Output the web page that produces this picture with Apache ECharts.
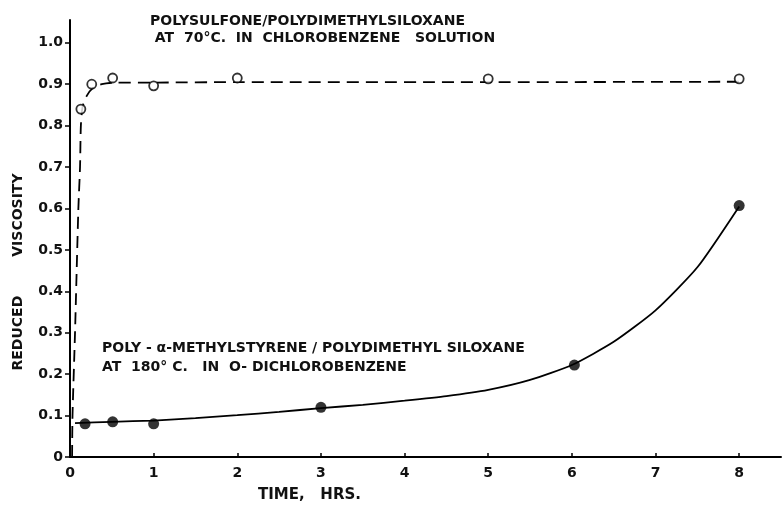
<!DOCTYPE html>
<html><head><meta charset="utf-8">
<script src="https://cdn.jsdelivr.net/npm/echarts@6/dist/echarts.min.js"></script>
<style>html,body{margin:0;padding:0;background:#fff}#c{width:782px;height:511px}</style>
</head><body><div id="c"></div>
<script>
// Polysulfone / PDMS (open circles)
const psTime = [0.13, 0.26, 0.51, 1.0, 2.0, 5.0, 8.0];
const psVisc = [0.84, 0.90, 0.915, 0.896, 0.915, 0.913, 0.913];
// dashed fitted curve
const psCurveTime = [0.025, 0.03, 0.06, 0.1, 0.12, 0.13, 0.15, 0.2, 0.27, 0.38, 0.55, 1, 2, 5, 8.05];
const psCurveVisc = [0.0, 0.1, 0.3, 0.6, 0.7, 0.8, 0.845, 0.872, 0.89, 0.9, 0.904, 0.904, 0.905, 0.905, 0.906];
// solid fitted curve
const pmsCurveTime = [0.06, 0.5, 1, 1.5, 2, 2.5, 3, 3.5, 4, 4.5, 5, 5.5, 6, 6.5, 7, 7.5, 8];
const pmsCurveVisc = [0.082, 0.085, 0.088, 0.094, 0.101, 0.109, 0.118, 0.126, 0.136, 0.147, 0.162, 0.186, 0.222, 0.278, 0.354, 0.458, 0.605];
// Poly-alpha-methylstyrene / PDMS (filled circles)
const pmsTime = [0.18, 0.51, 1.0, 3.0, 6.03, 8.0];
const pmsVisc = [0.08, 0.085, 0.08, 0.12, 0.222, 0.607];
// axis ticks
const xTicks = [0, 1, 2, 3, 4, 5, 6, 7, 8];
const yTicks = [0, 0.1, 0.2, 0.3, 0.4, 0.5, 0.6, 0.7, 0.8, 0.9, 1.0];

const FONT = 'DejaVu Sans';
const TXT = 'bold 14px "DejaVu Sans"';
const zip = (a, b) => a.map((v, i) => [v, b[i]]);
const chart = echarts.init(document.getElementById('c'), null, {renderer: 'canvas'});
chart.setOption({
  animation: false,
  backgroundColor: '#fff',
  grid: {left: 70, top: 20, right: 1, bottom: 54, containLabel: false},
  xAxis: {
    type: 'value', min: 0, max: 8.5, interval: 1,
    axisLine: {lineStyle: {color: '#000', width: 2}},
    axisTick: {inside: true, length: 4, lineStyle: {color: '#000', width: 1.5}, customValues: xTicks},
    axisLabel: {customValues: xTicks, margin: 9, color: '#111', fontFamily: FONT, fontSize: 14, fontWeight: 'bold',
      formatter: v => String(v)},
    splitLine: {show: false}
  },
  yAxis: {
    type: 'value', min: 0, max: 1.055, interval: 0.1,
    axisLine: {show: true, lineStyle: {color: '#000', width: 2}},
    axisTick: {show: true, inside: false, length: 5, lineStyle: {color: '#000', width: 1.5}, customValues: yTicks},
    axisLabel: {customValues: yTicks, margin: 7, color: '#111', fontFamily: FONT, fontSize: 14, fontWeight: 'bold',
      formatter: v => v === 0 ? '0' : v.toFixed(1)},
    splitLine: {show: false}
  },
  series: [
    {type: 'line', data: zip(psCurveTime, psCurveVisc), smooth: 0.25, showSymbol: false, symbol: 'none',
      lineStyle: {color: '#000', width: 1.8, type: [12, 7]}, z: 2},
    {type: 'line', data: zip(pmsCurveTime, pmsCurveVisc), smooth: 0.2, showSymbol: false, symbol: 'none',
      lineStyle: {color: '#000', width: 1.8}, z: 2},
    {type: 'scatter', data: zip(psTime, psVisc), symbol: 'circle', symbolSize: 9,
      itemStyle: {color: '#fff', borderColor: '#000', borderWidth: 1.8}, z: 3},
    {type: 'scatter', data: zip(pmsTime, pmsVisc), symbol: 'circle', symbolSize: 11,
      itemStyle: {color: '#000'}, z: 3}
  ],
  graphic: [
    {type: 'text', left: 150, top: 13, style: {text: 'POLYSULFONE/POLYDIMETHYLSILOXANE\n AT  70°C.  IN  CHLOROBENZENE   SOLUTION',
      font: TXT, fill: '#111', lineHeight: 17}},
    {type: 'text', left: 102, top: 339, style: {text: 'POLY - α-METHYLSTYRENE / POLYDIMETHYL SILOXANE\nAT  180° C.   IN  O- DICHLOROBENZENE',
      font: TXT, fill: '#111', lineHeight: 19}},
    {type: 'text', left: 258, top: 488, style: {text: 'TIME,   HRS.', font: 'bold 15px "DejaVu Sans"', fill: '#111'}},
    {type: 'text', x: 18, y: 272, rotation: Math.PI / 2, style: {text: 'REDUCED        VISCOSITY', font: TXT, fill: '#111',
      align: 'center', verticalAlign: 'middle'}}
  ]
});
</script></body></html>
